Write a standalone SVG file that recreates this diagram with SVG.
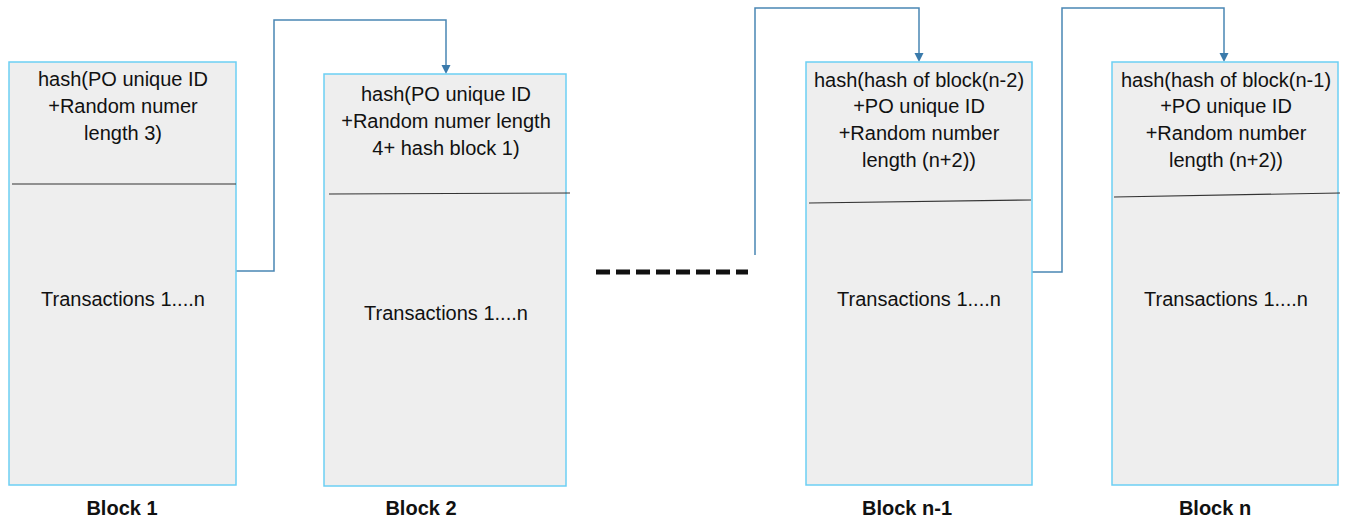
<svg xmlns="http://www.w3.org/2000/svg" width="1347" height="522" viewBox="0 0 1347 522">
<style>
.box{fill:#eeeeee;stroke:#6ccff4;stroke-width:1.5}
.div{stroke:#333333;stroke-width:1.2;fill:none}
.t{font-family:"Liberation Sans",Arial,sans-serif;font-size:20px;fill:#111111;text-anchor:middle}
.lbl{font-family:"Liberation Sans",Arial,sans-serif;font-size:20px;font-weight:bold;fill:#111111;text-anchor:middle}
.conn{fill:none;stroke:#4a86b4;stroke-width:1.5}
.head{fill:#3a7aab}
</style>
<g id="connectors">
<polyline class="conn" points="236,271 274,271 274,20 446,20 446,66"/>
<path class="head" d="M441.5,65 L450.5,65 L446,74 Z"/>
<polyline class="conn" points="755,255 755,8 919,8 919,54"/>
<path class="head" d="M914.5,53 L923.5,53 L919,62 Z"/>
<polyline class="conn" points="1032,272 1062,272 1062,8 1224,8 1224,54"/>
<path class="head" d="M1219.5,53 L1228.5,53 L1224,62 Z"/>
<line x1="596" y1="272" x2="748" y2="272" stroke="#111111" stroke-width="5" stroke-dasharray="14,6"/>
</g>
<g id="block1">
<rect class="box" x="9" y="62" width="227" height="423"/>
<line class="div" x1="12" y1="184" x2="236" y2="184"/>
<text class="t" x="123" y="86">hash(PO unique ID</text>
<text class="t" x="123" y="113">+Random numer</text>
<text class="t" x="123" y="140">length 3)</text>
<text class="t" x="123" y="306">Transactions 1....n</text>
<text class="lbl" x="122" y="515">Block 1</text>
</g>
<g id="block2">
<rect class="box" x="324" y="74" width="242" height="412"/>
<line class="div" x1="329" y1="194" x2="570" y2="193"/>
<text class="t" x="446" y="101">hash(PO unique ID</text>
<text class="t" x="446" y="128">+Random numer length</text>
<text class="t" x="446" y="155">4+ hash block 1)</text>
<text class="t" x="446" y="320">Transactions 1....n</text>
<text class="lbl" x="421" y="515">Block 2</text>
</g>
<g id="blockn1">
<rect class="box" x="806" y="62" width="226" height="423"/>
<line class="div" x1="809" y1="203" x2="1031" y2="200"/>
<text class="t" x="919" y="87">hash(hash of block(n-2)</text>
<text class="t" x="919" y="113">+PO unique ID</text>
<text class="t" x="919" y="140">+Random number</text>
<text class="t" x="919" y="167">length (n+2))</text>
<text class="t" x="919" y="306">Transactions 1....n</text>
<text class="lbl" x="907" y="515">Block n-1</text>
</g>
<g id="blockn">
<rect class="box" x="1112" y="62" width="226" height="423"/>
<line class="div" x1="1114" y1="197" x2="1340" y2="193"/>
<text class="t" x="1226" y="87">hash(hash of block(n-1)</text>
<text class="t" x="1226" y="113">+PO unique ID</text>
<text class="t" x="1226" y="140">+Random number</text>
<text class="t" x="1226" y="167">length (n+2))</text>
<text class="t" x="1226" y="306">Transactions 1....n</text>
<text class="lbl" x="1215" y="515">Block n</text>
</g>
</svg>
